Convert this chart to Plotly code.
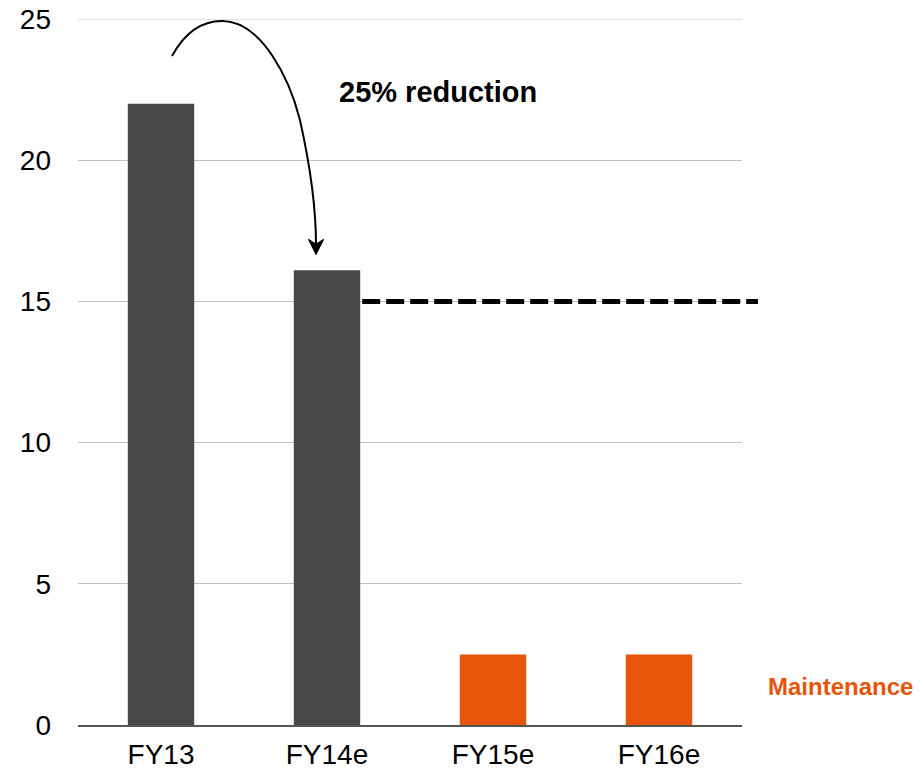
import plotly.graph_objects as go

# Chart data
categories = ["FY13", "FY14e", "FY15e", "FY16e"]
values = [22.0, 16.1, 2.5, 2.5]
bar_colors = ["#474946", "#474946", "#E8540A", "#E8540A"]
target_level = 15.0
y_ticks = [0, 5, 10, 15, 20, 25]

FONT = "Liberation Sans, Arial, sans-serif"

fig = go.Figure()
fig.add_trace(go.Bar(
    x=categories, y=values,
    marker=dict(color=bar_colors, line=dict(width=0)),
    width=0.4, showlegend=False, hoverinfo="x+y",
))

shapes = [
    # top gridline
    dict(type="line", xref="paper", yref="y", x0=0, x1=1, y0=25, y1=25,
         line=dict(color="#C4C4BA", width=1), layer="below"),
    # dashed target level extending past the last category
    dict(type="line", xref="paper", yref="y", x0=0.428, x1=1.024,
         y0=target_level, y1=target_level,
         line=dict(color="black", width=5, dash="18px,6px"), layer="above"),
    # curved arrow from FY13 to FY14e
    dict(type="path", xref="x", yref="y",
         path="M0.066,23.69 C0.145,24.54 0.253,24.93 0.367,24.93 "
              "C0.608,24.93 0.777,22.84 0.837,21.42 "
              "C0.898,19.83 0.934,18.24 0.934,16.95",
         line=dict(color="black", width=2), layer="above"),
    # arrow head
    dict(type="path", xref="x", yref="y",
         path="M0.934,16.66 L0.888,17.20 L0.934,17.03 L0.980,17.20 Z",
         fillcolor="black", line=dict(color="black", width=1), layer="above"),
]

annotations = [
    dict(text="<b>25% reduction</b>", xref="paper", yref="y",
         x=(438 - 78) / 664, y=22.4, xanchor="center", yanchor="middle",
         showarrow=False, font=dict(family=FONT, size=29, color="black")),
    dict(text="<b>Maintenance</b>", xref="paper", yref="y",
         x=(840 - 78) / 664, y=1.35, xanchor="center", yanchor="middle",
         showarrow=False, font=dict(family=FONT, size=24, color="#E8540A")),
]

fig.update_layout(
    width=924, height=771,
    margin=dict(l=78, r=182, t=19, b=46, autoexpand=False),
    paper_bgcolor="white", plot_bgcolor="white",
    font=dict(family=FONT, size=28, color="black"),
    bargap=0.6,
    shapes=shapes, annotations=annotations,
    xaxis=dict(
        type="category", showgrid=False, showline=True, automargin=False,
        linecolor="#555555", linewidth=1.5, ticks="", ticklabelstandoff=4,
        tickfont=dict(family=FONT, size=28, color="black"),
    ),
    yaxis=dict(
        range=[0, 25], tickvals=y_ticks, showgrid=True, automargin=False,
        gridcolor="#C4C4BA", gridwidth=1, zeroline=False, showline=False,
        ticks="", ticklabelstandoff=26,
        tickfont=dict(family=FONT, size=28, color="black"),
    ),
)

fig.write_html("out.html")
